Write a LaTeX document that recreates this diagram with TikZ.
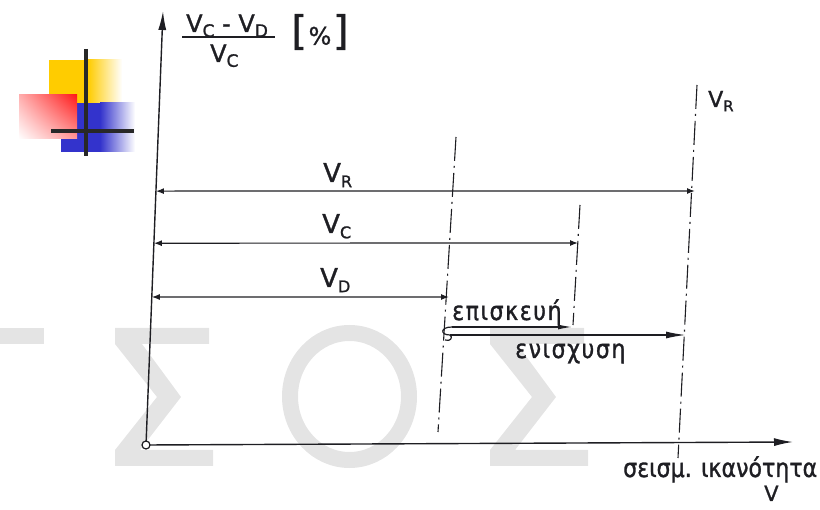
\documentclass[tikz,border=0pt]{standalone}
\usepackage{fontspec}
\setmainfont[FakeBold=1.2]{DejaVu Sans}
\newfontfamily\grfont[FakeStretch=0.85,FakeBold=1.2]{DejaVu Sans}
\newfontfamily\grwide[FakeStretch=0.85,FakeBold=1.2,LetterSpace=6]{DejaVu Sans}
\usepackage{xcolor}
\usetikzlibrary{arrows.meta,calc,shadings}

\definecolor{inkc}{RGB}{30,30,35}
\definecolor{wmgray}{RGB}{228,228,228}
\definecolor{logoyellow}{RGB}{255,204,0}
\definecolor{logored}{RGB}{255,25,25}
\definecolor{logoblue}{RGB}{51,51,204}
\definecolor{logoline}{RGB}{40,40,40}

\newcommand{\Vsub}[2][16]{V\raisebox{-0.2em}{\fontsize{#1}{#1}\selectfont #2}}

\begin{document}
\begin{tikzpicture}[x=1pt,y=-1pt,
    ink/.style={draw=inkc, line width=1.2pt},
    axis/.style={ink, line width=1.4pt, -{Latex[length=19pt,width=8pt]}},
    dimline/.style={ink, {Latex[length=8pt,width=6pt]}-{Latex[length=8pt,width=6pt]}},
    guide/.style={ink, line width=1.1pt, dash pattern=on 24pt off 5pt on 2pt off 5pt},
    lbl/.style={inner sep=0pt, anchor=base west, text=inkc, font=\fontsize{26}{26}\selectfont},
    grlbl/.style={inner sep=0pt, anchor=base west, text=inkc, font=\grfont\fontsize{26}{26}\selectfont}]
  \useasboundingbox (0,0) rectangle (820,510);

  % watermark
  \fill[wmgray] (0,328) rectangle (44,344);
  \foreach \dx in {0,375} {
    \fill[wmgray] (115+\dx,328) -- (209+\dx,328) -- (209+\dx,344) -- (142+\dx,344)
      -- (181+\dx,397) -- (140+\dx,450) -- (213+\dx,450) -- (213+\dx,466)
      -- (115+\dx,466) -- (115+\dx,450) -- (157+\dx,397) -- (115+\dx,344) -- cycle;
  }
  \draw[wmgray, line width=16pt] (349.5,396.5) ellipse [x radius=59.5, y radius=63.5];

  % logo
  \fill[logoyellow] (49,60) rectangle (88,103);
  \shade[left color=logoyellow, right color=white] (88,60) rectangle (122,103);
  \fill[logoblue] (61,103) rectangle (100,152);
  \shade[left color=logoblue, right color=white] (100,103) rectangle (135,152);
  \shade[upper right=logored, upper left=logored!35, lower right=logored!45, lower left=white]
    (19,95) rectangle (77,139);
  \draw[logoline, line width=3.5pt] (86,49) -- (86,156);
  \draw[logoline, line width=3.5pt] (51,131) -- (134,131);

  % axes
  \coordinate (O) at (146,445);
  \coordinate (ytip) at (163,11);
  \coordinate (xtip) at (793,442);
  \draw[axis] (O) -- (ytip);
  \draw[axis] (O) -- (xtip);
  \draw[ink, fill=white] (O) circle (4pt);

  % guide lines
  \coordinate (gRtop) at (697,85);
  \coordinate (gRbot) at (678,458);
  \coordinate (gCtop) at (580,205);
  \coordinate (gCbot) at (573,325);
  \coordinate (gDtop) at (456,137);
  \coordinate (gDbot) at (438,432);
  \draw[guide] (gRtop) -- (gRbot);
  \draw[guide] (gCtop) -- (gCbot);
  \draw[guide] (gDtop) -- (gDbot);

  % dimension arrows
  \coordinate (rL) at ($(O)!0.585!(ytip)$);
  \coordinate (rR) at (695,191);
  \coordinate (cL) at ($(O)!0.465!(ytip)$);
  \coordinate (cR) at (578,243);
  \coordinate (dL) at ($(O)!0.341!(ytip)$);
  \coordinate (dR) at (449,297);
  \draw[dimline] (rL) -- (rR);
  \draw[dimline] (cL) -- (cR);
  \draw[dimline] (dL) -- (dR);

  \node[lbl] (labR) at (323,182) {\Vsub{R}};
  \node[lbl] (labC) at (322,233) {\Vsub{C}};
  \node[lbl] (labD) at (320,287) {\Vsub{D}};
  \node[lbl, font=\fontsize{22}{22}\selectfont] (labRtop) at (708,107) {\Vsub[15]{R}};

  % repair / strengthening
  \coordinate (sA) at (452,327);
  \coordinate (sB) at (450,335);
  \coordinate (epiEnd) at (572,327);
  \coordinate (eniEnd) at (686,335);
  \draw[ink] (sA) .. controls (440,327) and (440,335) .. (sB);
  \draw[ink] (sB) .. controls (453,337) and (451,342) .. (445,340);
  \draw[ink, -{Latex[length=14pt,width=5pt]}] (sA) -- (epiEnd);
  \draw[ink, line width=1.6pt, -{Latex[length=20pt,width=7pt]}] (sB) -- (eniEnd);
  \node[grlbl, font=\grwide\fontsize{26}{26}\selectfont] (epi) at (452,320) {επισκευή};
  \node[grlbl, font=\grwide\fontsize{26}{26}\selectfont] (eni) at (515,358) {ενισχυση};

  % axis labels
  \node[grlbl] (xlab) at (623,477) {σεισμ. ικανότητα};
  \node[lbl, font=\fontsize{21}{21}\selectfont] (xV) at (764,501) {V};
  \node[lbl, font=\fontsize{24}{24}\selectfont] (num) at (186,32) {\Vsub[17]{C} - \Vsub[17]{D}};
  \coordinate (barL) at (182,37);
  \coordinate (barR) at (275,37);
  \draw[ink, line width=1.6pt] (barL) -- (barR);
  \node[lbl, font=\fontsize{24}{24}\selectfont] (den) at (210,62) {\Vsub[17]{C}};
  \node[inner sep=0pt, text=inkc] (unit) at (320,32)
    {{\fontsize{40}{40}\selectfont[}\,{\fontsize{24}{24}\selectfont\%}\,{\fontsize{40}{40}\selectfont]}};
\end{tikzpicture}
\end{document}
